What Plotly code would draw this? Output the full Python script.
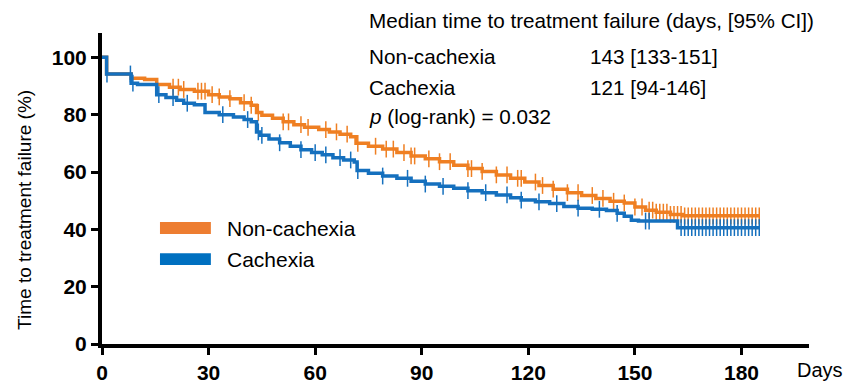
import numpy as np
import plotly.graph_objects as go

# ---- data ----
noncach_t = [0, 1.3, 8.2, 12, 15.4, 19, 22, 26, 30, 33, 36, 39, 42, 43.5, 45, 48, 51, 54, 57, 61, 64, 67, 70,
             71.5, 75, 79, 83, 87, 91, 95, 99, 103, 107, 111, 115, 119, 123, 127, 131, 135, 139, 143, 147,
             150, 153, 156, 160, 163.4, 185]
noncach_s = [100, 94.2, 92.7, 92.3, 90.5, 89.6, 88.8, 88.2, 87.0, 86.2, 85.6, 84.2, 83.3, 80.8, 79.8, 78.8,
             77.5, 76.5, 75.6, 74.8, 74.0, 73.2, 72.3, 70.0, 69.0, 68.0, 66.8, 65.6, 64.6, 63.6, 62.4, 61.2,
             60.2, 59.0, 57.8, 56.5, 55.3, 54.0, 52.8, 51.8, 50.8, 49.8, 49.2, 47.8, 46.7, 46.0, 45.2, 44.7, 44.7]

cach_t = [0, 1.3, 8.2, 10, 15.4, 18, 21, 23, 26, 29, 33, 37, 40, 42, 43.5, 44.5, 47, 50, 53, 56, 59, 62, 65,
          68, 71, 71.8, 75, 79, 83, 87, 91, 95, 99, 103, 107, 111, 115, 118, 122, 126, 130, 134, 138, 142,
          145, 147, 149, 151, 162, 185]
cach_s = [100, 94.2, 91.0, 90.5, 87.0, 86.0, 85.0, 84.0, 83.5, 80.8, 80.0, 79.2, 78.3, 77.5, 74.0, 72.8,
          71.5, 70.2, 69.0, 67.8, 66.8, 66.0, 65.0, 64.2, 63.5, 60.5, 59.6, 58.6, 57.8, 56.8, 55.8, 55.0,
          54.3, 53.5, 52.8, 52.0, 51.0, 50.2, 49.6, 49.0, 48.0, 47.4, 47.0, 46.6, 45.6, 44.6, 43.2, 42.9,
          40.6, 40.6]

noncach_cens = [20, 21.5, 23, 27, 28, 29, 31, 33, 36, 40, 42, 44, 51, 52.5, 56, 58, 63, 66, 69, 72, 77, 80,
                82, 85, 87, 88, 92, 95, 98, 103, 104, 107, 111, 114, 117, 118, 122, 124, 127, 131, 134, 138,
                141, 144, 147, 150, 152, 154,
                155, 156, 157, 158, 159, 160, 161, 162, 163, 164, 165, 166, 167, 168, 169, 170, 171, 172,
                173, 174, 175, 176, 177, 178, 179, 180, 181, 182, 183, 184, 185]
cach_cens = [1.4, 8, 8.7, 16, 20, 24, 34, 41, 44, 45, 50, 56, 60, 63, 67, 70, 72, 79, 86, 91, 96, 103, 108,
             114, 118, 123, 128, 134, 140, 145, 153, 154,
             163, 164, 165, 166, 167, 168, 169, 170, 171, 172, 173, 174, 175, 176, 177, 178, 179, 180,
             181, 182, 183, 184, 185]

x_ticks = [0, 30, 60, 90, 120, 150, 180]
y_ticks = [0, 20, 40, 60, 80, 100]

ORANGE = '#EF7F22'
BLUE = '#1570BE'
FONT = 'Liberation Sans, Arial, sans-serif'


def step_at(ts, ss, x):
    idx = np.searchsorted(np.array(ts), np.array(x), side='right') - 1
    return list(np.array(ss)[idx])


fig = go.Figure()
for t, s, c, col in [(noncach_t, noncach_s, noncach_cens, ORANGE), (cach_t, cach_s, cach_cens, BLUE)]:
    fig.add_trace(go.Scatter(x=t, y=s, mode='lines', line=dict(color=col, width=3.5, shape='hv'),
                             showlegend=False, hoverinfo='skip'))
    fig.add_trace(go.Scatter(x=c, y=step_at(t, s, c), mode='markers',
                             marker=dict(symbol='line-ns-open', size=12, color=col,
                                         line=dict(color=col, width=1.5)),
                             showlegend=False, hoverinfo='skip'))

fig.update_layout(
    template='none',
    width=861, height=386,
    margin=dict(l=102, r=52, t=33, b=42),
    paper_bgcolor='white', plot_bgcolor='white',
    font=dict(family=FONT, color='black'),
    xaxis=dict(range=[0, 199], tickvals=x_ticks, showgrid=False, zeroline=False, automargin=False,
               showline=True, linecolor='black', linewidth=4, ticks='outside', ticklen=7, tickwidth=3,
               tickcolor='black', tickfont=dict(size=21, family=FONT, weight='bold')),
    yaxis=dict(range=[0, 108.5], tickvals=y_ticks, showgrid=False, zeroline=False, automargin=False,
               showline=True, linecolor='black', linewidth=4, ticks='outside', ticklen=7, tickwidth=3,
               tickcolor='black', tickfont=dict(size=21, family=FONT, weight='bold')),
)

ann = []
ann.append(dict(text='Time to treatment failure (%)', x=-0.109, y=0.431, xref='paper', yref='paper',
                textangle=-90, showarrow=False, font=dict(size=19), xanchor='center', yanchor='middle'))
ann.append(dict(text='Days', x=1.015, y=-0.084, xref='paper', yref='paper', showarrow=False,
                font=dict(size=20), xanchor='center', yanchor='middle'))
rows = [('Median time to treatment failure (days, [95% CI])', 1.039, None),
        ('Non-cachexia', 0.926, '143 [133-151]'),
        ('Cachexia', 0.826, '121 [94-146]'),
        ('<i>p</i> (log-rank) = 0.032', 0.730, None)]
for left, yy, right in rows:
    ann.append(dict(text=left, x=0.375, y=yy, xref='paper', yref='paper', showarrow=False,
                    font=dict(size=20.7), xanchor='left', yanchor='middle'))
    if right:
        ann.append(dict(text=right, x=0.687, y=yy, xref='paper', yref='paper', showarrow=False,
                        font=dict(size=20.7), xanchor='left', yanchor='middle'))
for name, col, y0, y1, yt in [('Non-cachexia', '#ED7D31', 0.354, 0.392, 0.372),
                               ('Cachexia', '#0070C0', 0.254, 0.292, 0.272)]:
    fig.add_shape(type='rect', xref='paper', yref='paper', x0=0.082, x1=0.154, y0=y0, y1=y1,
                  fillcolor=col, line=dict(width=0))
    ann.append(dict(text=name, x=0.174, y=yt, xref='paper', yref='paper', showarrow=False,
                    font=dict(size=21), xanchor='left', yanchor='middle'))
fig.update_layout(annotations=ann)

fig.write_html('out.html', config={'displayModeBar': False},
               post_script="document.body.style.margin='0';document.body.style.overflow='hidden';")
